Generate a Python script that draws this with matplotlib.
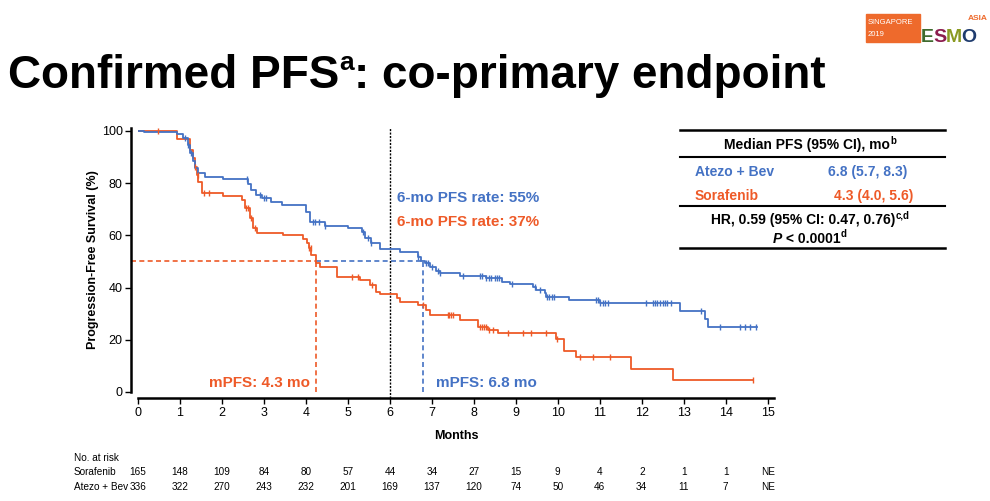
import matplotlib
matplotlib.use("Agg")
import matplotlib.pyplot as plt
import matplotlib.transforms as mtransforms
import numpy as np
from matplotlib.lines import Line2D
from matplotlib.patches import Rectangle

plt.rcParams['font.family'] = ['Liberation Sans', 'DejaVu Sans']

BLUE = "#4472C4"
ORANGE = "#EE5A28"

# Kaplan-Meier steps (months, % PFS after the drop)
atezo_t = [0, 0.15, 0.92, 1.07, 1.2, 1.24, 1.3, 1.36, 1.43, 1.6, 2.02, 2.62, 2.7, 2.8,
           2.95, 3.18, 3.42, 4.0, 4.1, 4.45, 5.0, 5.33, 5.4, 5.56, 5.76, 6.24, 6.67,
           6.75, 6.83, 6.95, 7.11, 7.19, 7.67, 8.3, 8.66, 8.86, 9.41, 9.49, 9.69, 9.73,
           10.26, 11.0, 12.9, 13.5, 13.57]
atezo_s = [100, 99.4, 98.8, 97.3, 94.6, 91.5, 88.5, 85.8, 83.9, 82.5, 81.6, 79.5, 77.5, 75.5,
           74.3, 72.9, 71.6, 69.0, 65.2, 63.6, 62.7, 61.4, 58.8, 56.9, 54.6, 53.7, 51.8,
           50.3, 49.3, 48.0, 46.5, 45.5, 44.4, 43.5, 42.3, 41.4, 40.3, 39.1, 37.8, 36.5,
           35.2, 34.0, 31.1, 28.0, 25.0]
atezo_end = 14.75
atezo_cens = [1.12, 1.2, 1.26, 2.6, 2.9, 3.0, 3.06, 4.17, 4.22, 4.3, 4.45, 5.36, 5.48, 5.56,
              6.67, 6.85, 6.9, 7.0, 7.15, 7.2, 7.73, 8.14, 8.2, 8.3, 8.35, 8.4, 8.5, 8.55,
              8.6, 8.9, 9.45, 9.57, 9.75, 9.8, 9.85, 9.9, 10.9, 10.95, 11.0, 11.07, 11.12,
              11.2, 12.11, 12.27, 12.32, 12.37, 12.43, 12.5, 12.55, 12.6, 12.7, 13.4, 13.87,
              14.33, 14.45, 14.57, 14.73]

sora_t = [0, 0.92, 1.24, 1.31, 1.36, 1.4, 1.44, 1.52, 2.03, 2.47, 2.55, 2.67, 2.75, 2.83,
          3.45, 3.94, 4.02, 4.08, 4.13, 4.25, 4.33, 4.73, 5.29, 5.52, 5.68, 5.76, 6.16,
          6.24, 6.67, 6.87, 6.95, 7.67, 8.1, 8.34, 8.58, 9.95, 10.15, 10.43, 11.74, 12.74]
sora_s = [100, 97.0, 92.7, 89.7, 86.3, 83.1, 80.6, 76.1, 75.1, 73.6, 70.4, 66.5, 62.7, 60.8,
          60.2, 58.5, 57.0, 55.0, 52.5, 49.5, 48.0, 44.2, 42.9, 41.0, 38.4, 37.4, 35.9,
          34.6, 33.3, 31.4, 29.5, 27.6, 25.0, 23.8, 22.6, 20.3, 15.8, 13.5, 8.8, 4.6]
sora_end = 14.65
sora_cens = [0.48, 1.36, 1.43, 1.58, 1.69, 2.58, 2.63, 2.7, 2.78, 4.08, 4.12, 5.09, 5.24,
             5.57, 6.8, 7.38, 7.42, 7.46, 7.5, 8.14, 8.2, 8.25, 8.3, 8.35, 8.45, 8.81, 9.17,
             9.35, 9.71, 9.97, 10.52, 10.83, 11.25, 14.65]

median_sora = 4.25
median_atezo = 6.8
x_ticks = list(range(16))
y_ticks = [0, 20, 40, 60, 80, 100]

risk_labels = ["Sorafenib", "Atezo + Bev"]
risk_sora = ["165", "148", "109", "84", "80", "57", "44", "34", "27", "15", "9", "4", "2", "1", "1", "NE"]
risk_atezo = ["336", "322", "270", "243", "232", "201", "169", "137", "120", "74", "50", "46", "34", "11", "7", "NE"]

W, H = 990, 501
fig = plt.figure(figsize=(W / 100, H / 100), dpi=100)


def fx(px):
    return px / W


def fy(py):
    return 1 - py / H


ax = fig.add_axes([fx(138), fy(392), fx(774) - fx(138), fy(128) - fy(392)])
ax.set_xlim(0, 15.15)
ax.set_ylim(0, 101.1)


def km(ax, t, s, end, cens, color):
    tt = list(t) + [end]
    ss = list(s) + [s[-1]]
    ax.step(tt, ss, where='post', color=color, lw=1.3, zorder=3)
    idx = np.searchsorted(np.array(t), np.array(cens), side='right') - 1
    cy = np.array(s)[idx]
    ax.plot(cens, cy, ls='none', marker='|', ms=5, mew=1.0, color=color, zorder=4)


km(ax, sora_t, sora_s, sora_end, sora_cens, ORANGE)
km(ax, atezo_t, atezo_s, atezo_end, atezo_cens, BLUE)

dash = (0, (3, 2))
ax.plot([-0.17, median_sora], [50, 50], color=ORANGE, lw=1.2, ls=dash, clip_on=False)
ax.plot([median_sora, median_atezo], [50, 50], color=BLUE, lw=1.2, ls=dash)
ax.plot([median_sora, median_sora], [0, 50], color=ORANGE, lw=1.2, ls=dash)
ax.plot([median_atezo, median_atezo], [0, 50], color=BLUE, lw=1.2, ls=dash)
ax.axvline(6, ymin=-0.022, ymax=1, color='black', lw=1.0, ls=(0, (1.5, 1)), clip_on=False)

ax.text(6.17, 74.3, "6-mo PFS rate: 55%", color=BLUE, fontsize=11, fontweight='bold', va='center')
ax.text(6.17, 65.1, "6-mo PFS rate: 37%", color=ORANGE, fontsize=11, fontweight='bold', va='center')
ax.text(4.1, 3.6, "mPFS: 4.3 mo", color=ORANGE, fontsize=11, fontweight='bold', va='center', ha='right')
ax.text(7.1, 3.6, "mPFS: 6.8 mo", color=BLUE, fontsize=11, fontweight='bold', va='center', ha='left')

for side in ['top', 'right']:
    ax.spines[side].set_visible(False)
ax.spines['left'].set_position(('outward', 5))
ax.spines['bottom'].set_position(('outward', 4.5))
ax.spines['left'].set_linewidth(1.8)
ax.spines['bottom'].set_linewidth(1.8)
ax.set_xticks(x_ticks)
ax.set_yticks(y_ticks)
ax.tick_params(axis='both', labelsize=9, width=1, length=4, pad=2)
ax.set_xlabel("Months", fontsize=9, fontweight='bold', labelpad=8)
ax.set_ylabel("Progression-Free Survival (%)", fontsize=9, fontweight='bold', labelpad=2)

# number at risk
rfs = 7.2
fig.text(fx(74), fy(458), "No. at risk", fontsize=rfs, va='center')
blend = mtransforms.blended_transform_factory(ax.transData, fig.transFigure)
for row, (lab, vals) in enumerate(zip(risk_labels, [risk_sora, risk_atezo])):
    yy = fy(472 + row * 14.5)
    fig.text(fx(74), yy, lab, fontsize=rfs, va='center')
    for xt, v in zip(x_ticks, vals):
        ax.text(xt, yy, v, fontsize=rfs, va='center', ha='center',
                transform=blend, clip_on=False)

renderer = fig.canvas.get_renderer()


def rich(x, y, parts, ha='left', **kw):
    # parts: list of (text, props, is_super)
    objs = []
    widths = []
    for text, props, sup in parts:
        p = dict(kw)
        p.update(props)
        o = fig.text(0, 0, text, va='baseline', **p)
        objs.append((o, sup))
        widths.append(o.get_window_extent(renderer).width)
    total = sum(widths)
    cur = x * W
    if ha == 'center':
        cur -= total / 2
    base_size = kw.get('fontsize', 10)
    for (o, sup), w in zip(objs, widths):
        dy = base_size * 0.40 * 100 / 72 if sup else 0
        o.set_position((cur / W, y + dy / H))
        cur += w
    return objs


# title
rich(fx(8), fy(88), [("Confirmed PFS", {}, False),
                      ("a", {'fontsize': 19}, True),
                      (": co-primary endpoint", {}, False)],
     fontsize=33, fontweight='bold', color='black')

# table
for py, lw in [(130, 1.8), (157, 1.5), (206, 1.5), (248, 1.8)]:
    fig.add_artist(Line2D([fx(680), fx(945)], [fy(py), fy(py)], color='black', lw=lw))
rich(fx(810), fy(149.5), [("Median PFS (95% CI), mo", {}, False), ("b", {'fontsize': 7}, True)],
     ha='center', fontsize=10, fontweight='bold', color='black')
fig.text(fx(695), fy(172), "Atezo + Bev", fontsize=10, fontweight='bold', color=BLUE, va='center')
fig.text(fx(828), fy(172), "6.8 (5.7, 8.3)", fontsize=10, fontweight='bold', color=BLUE, va='center')
fig.text(fx(695), fy(196), "Sorafenib", fontsize=10, fontweight='bold', color=ORANGE, va='center')
fig.text(fx(834), fy(196), "4.3 (4.0, 5.6)", fontsize=10, fontweight='bold', color=ORANGE, va='center')
rich(fx(810), fy(224), [("HR, 0.59 (95% CI: 0.47, 0.76)", {}, False), ("c,d", {'fontsize': 7}, True)],
     ha='center', fontsize=10, fontweight='bold', color='black')
rich(fx(810), fy(243), [("P", {'style': 'italic'}, False), (" < 0.0001", {}, False),
                        ("d", {'fontsize': 7}, True)],
     ha='center', fontsize=10, fontweight='bold', color='black')

# congress logo
fig.add_artist(Rectangle((fx(866), fy(42)), fx(920) - fx(866), fy(14) - fy(42),
                         color="#EE6A2C", transform=fig.transFigure))
fig.text(fx(868), fy(23), "SINGAPORE", fontsize=5.5, color='white', va='center')
fig.text(fx(868), fy(35), "2019", fontsize=5.5, color='white', va='center')
logo_cols = ["#3F6B2E", "#8C1D4E", "#8A9A22", "#1F3C6E"]
lx = 921
for ch, c in zip("ESMO", logo_cols):
    o = fig.text(fx(lx), fy(42), ch, fontsize=14, fontweight='bold', color=c, va='baseline')
    lx += o.get_window_extent(renderer).width - 0.5
fig.text(fx(988), fy(20), "ASIA", fontsize=6, fontweight='bold', color="#EE6A2C",
         va='baseline', ha='right')

fig.savefig("out.png", dpi=100)
